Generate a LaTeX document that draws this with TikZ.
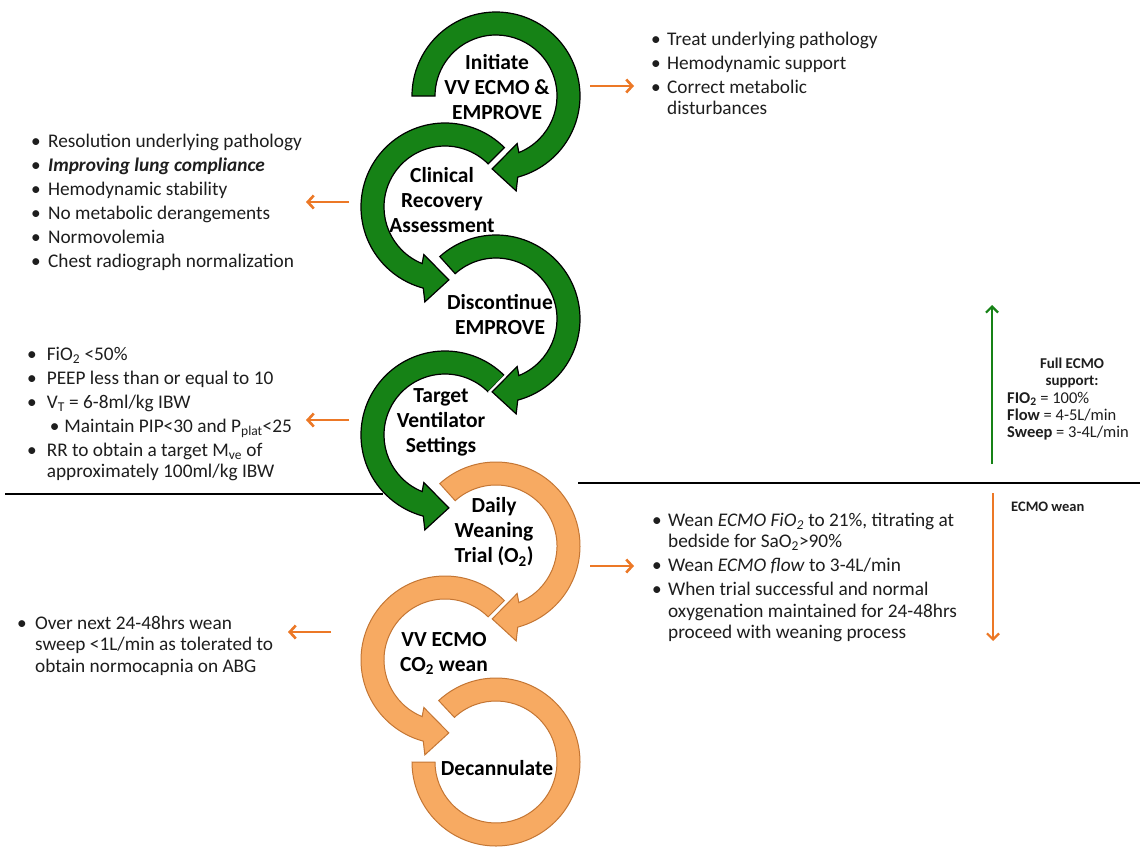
\documentclass[tikz,border=0pt]{standalone}
\usepackage{fontspec}
\setmainfont{Carlito}
\usetikzlibrary{arrows.meta}
\definecolor{ringgreen}{RGB}{22,130,22}
\definecolor{ringorange}{RGB}{247,170,98}
\definecolor{ringorangeedge}{RGB}{196,118,52}
\definecolor{arrorange}{RGB}{236,120,38}
\definecolor{arrgreen}{RGB}{22,130,22}
\definecolor{txtgray}{RGB}{30,30,30}
\newcommand{\RgOut}{84pt}
\newcommand{\RgIn}{61pt}
\newcommand{\RgWo}{97pt}
\newcommand{\RgWi}{52pt}
\newcommand{\RgTip}{73pt}
\newcommand{\cwring}[3]{\path[#3, shift={#1}] (#2:\RgOut) arc[start angle=#2, end angle=-75, radius=\RgOut] -- (-78:\RgWo) -- (-93:\RgTip) -- (-66:\RgWi) -- (-68:\RgIn) arc[start angle=-68, end angle=#2, radius=\RgIn] -- cycle;}
\newcommand{\ccwring}[3]{\path[#3, shift={#1}] (#2:\RgOut) arc[start angle=#2, end angle=255, radius=\RgOut] -- (258:\RgWo) -- (273:\RgTip) -- (246:\RgWi) -- (248:\RgIn) arc[start angle=248, end angle=#2, radius=\RgIn] -- cycle;}
\tikzset{
  greenring/.style={fill=ringgreen, draw=black, line width=1.2pt, preaction={draw=white, line width=6pt}},
  orangering/.style={fill=ringorange, draw=ringorangeedge, line width=1pt, preaction={draw=white, line width=6pt}},
  lbl/.style={font=\bfseries\fontsize{21.5}{25}\selectfont, align=center, text=black, inner sep=0pt},
  blist/.style={font=\fontsize{19.3}{21.5}\selectfont, inner sep=0pt, anchor=base west, text=txtgray},
  orangearrow/.style={draw=arrorange, line width=2.6pt, -{Straight Barb[length=6pt, width=13pt]}},
  greenarrow/.style={draw=arrgreen, line width=2.2pt, -{Straight Barb[length=6pt, width=12pt]}},
  vorangearrow/.style={draw=arrorange, line width=2.2pt, -{Straight Barb[length=6pt, width=12pt]}},
  sepline/.style={draw=black, line width=2pt}
}
\begin{document}
\begin{tikzpicture}[x=1pt, y=1pt]
\useasboundingbox (0,0) rectangle (1143,-849);
\fill[white] (0,0) rectangle (1143,-849);

% rings
\path[orangering, shift={(496,-762)}] (180:\RgOut) arc[start angle=180, end angle=493, radius=\RgOut] -- (493:\RgIn) arc[start angle=493, end angle=180, radius=\RgIn] -- cycle;
\ccwring{(445,-660)}{45}{orangering}
\cwring{(496,-546)}{132}{orangering}
\ccwring{(445,-435)}{45}{greenring}
\cwring{(496,-319)}{132}{greenring}
\ccwring{(445,-207)}{45}{greenring}
\cwring{(496,-96)}{180}{greenring}

% ring labels
\node[lbl] (c1) at (497,-87) {Initiate\\VV ECMO \&\\EMPROVE};
\node[lbl] (c2) at (442,-200) {Clinical\\Recovery\\Assessment};
\node[lbl] (c3) at (500,-315) {Discontinue\\EMPROVE};
\node[lbl] (c4) at (441,-422) {Target\\Ventilator\\Settings};
\node[lbl] (c5) at (494,-532) {Daily\\Weaning\\Trial (O\textsubscript{2})};
\node[lbl] (c6) at (444,-653) {VV ECMO\\CO\textsubscript{2} wean};
\node[lbl] (c7) at (497,-768) {Decannulate};

% bullet lists
\node[blist] (t1) at (651,-45) {\begin{tabular}[t]{@{}l@{\hspace{6.3pt}}l@{}}
\textbullet & Treat underlying pathology\\[2.5pt]
\textbullet & Hemodynamic support\\[2.5pt]
\textbullet & Correct metabolic\\
 & disturbances
\end{tabular}};
\node[blist] (t2) at (31,-147) {\begin{tabular}[t]{@{}l@{\hspace{7.3pt}}l@{}}
\textbullet & Resolution underlying pathology\\[2.5pt]
\textbullet & \textbf{\textit{Improving lung compliance}}\\[2.5pt]
\textbullet & Hemodynamic stability\\[2.5pt]
\textbullet & No metabolic derangements\\[2.5pt]
\textbullet & Normovolemia\\[2.5pt]
\textbullet & Chest radiograph normalization
\end{tabular}};
\node[blist] (t3) at (27,-360) {\begin{tabular}[t]{@{}l@{\hspace{10pt}}l@{}}
\textbullet & FiO\textsubscript{2} <50\%\\[2.5pt]
\textbullet & PEEP less than or equal to 10\\[2.5pt]
\textbullet & V\textsubscript{T} = 6-8ml/kg IBW\\[2.5pt]
 & \hspace{3pt}\textbullet\hspace{5pt}Maintain PIP<30 and P\textsubscript{plat}<25\\[2.5pt]
\textbullet & RR to obtain a target M\textsubscript{ve} of\\
 & approximately 100ml/kg IBW
\end{tabular}};
\node[blist] (t4) at (652,-526) {\begin{tabular}[t]{@{}l@{\hspace{6.3pt}}l@{}}
\textbullet & Wean \textit{ECMO FiO\textsubscript{2}} to 21\%, titrating at\\
 & bedside for SaO\textsubscript{2}>90\%\\[2.5pt]
\textbullet & Wean \textit{ECMO flow} to 3-4L/min\\[2.5pt]
\textbullet & When trial successful and normal\\
 & oxygenation maintained for 24-48hrs\\
 & proceed with weaning process
\end{tabular}};
\node[blist] (t5) at (17,-629) {\begin{tabular}[t]{@{}l@{\hspace{8.3pt}}l@{}}
\textbullet & Over next 24-48hrs wean\\
 & sweep <1L/min as tolerated to\\
 & obtain normocapnia on ABG
\end{tabular}};

% right side labels
\node[font=\bfseries\fontsize{15}{17}\selectfont, align=center, inner sep=0pt, text=txtgray] (full) at (1072,-373) {Full ECMO\\support:};
\node[font=\fontsize{16.5}{17}\selectfont, inner sep=0pt, anchor=base west, text=txtgray] (fullv) at (1007,-403) {\begin{tabular}[t]{@{}l@{}}
\textbf{FIO\textsubscript{2}} = 100\%\\
\textbf{Flow} = 4-5L/min\\
\textbf{Sweep} = 3-4L/min
\end{tabular}};
\node[font=\bfseries\fontsize{14.5}{17}\selectfont, inner sep=0pt, anchor=west, text=txtgray] (wean) at (1011,-507) {ECMO wean};

% separator lines
\coordinate (l1a) at (5,-494);
\coordinate (l1b) at (383,-494);
\coordinate (l2a) at (578,-483);
\coordinate (l2b) at (1140,-483);
\draw[sepline] (l1a) -- (l1b);
\draw[sepline] (l2a) -- (l2b);

% connectors
\coordinate (a1s) at (590,-86);  \coordinate (a1e) at (634,-86);
\coordinate (a2s) at (349,-202); \coordinate (a2e) at (306,-202);
\coordinate (a3s) at (349,-420); \coordinate (a3e) at (306,-420);
\coordinate (a4s) at (590,-566); \coordinate (a4e) at (634,-566);
\coordinate (a5s) at (331,-632); \coordinate (a5e) at (288,-632);
\draw[orangearrow] (a1s) -- (a1e);
\draw[orangearrow] (a2s) -- (a2e);
\draw[orangearrow] (a3s) -- (a3e);
\draw[orangearrow] (a4s) -- (a4e);
\draw[orangearrow] (a5s) -- (a5e);
\coordinate (g1) at (992,-464); \coordinate (g2) at (992,-305);
\draw[greenarrow] (g1) -- (g2);
\coordinate (o1) at (993,-493); \coordinate (o2) at (993,-641);
\draw[vorangearrow] (o1) -- (o2);
\end{tikzpicture}
\end{document}
